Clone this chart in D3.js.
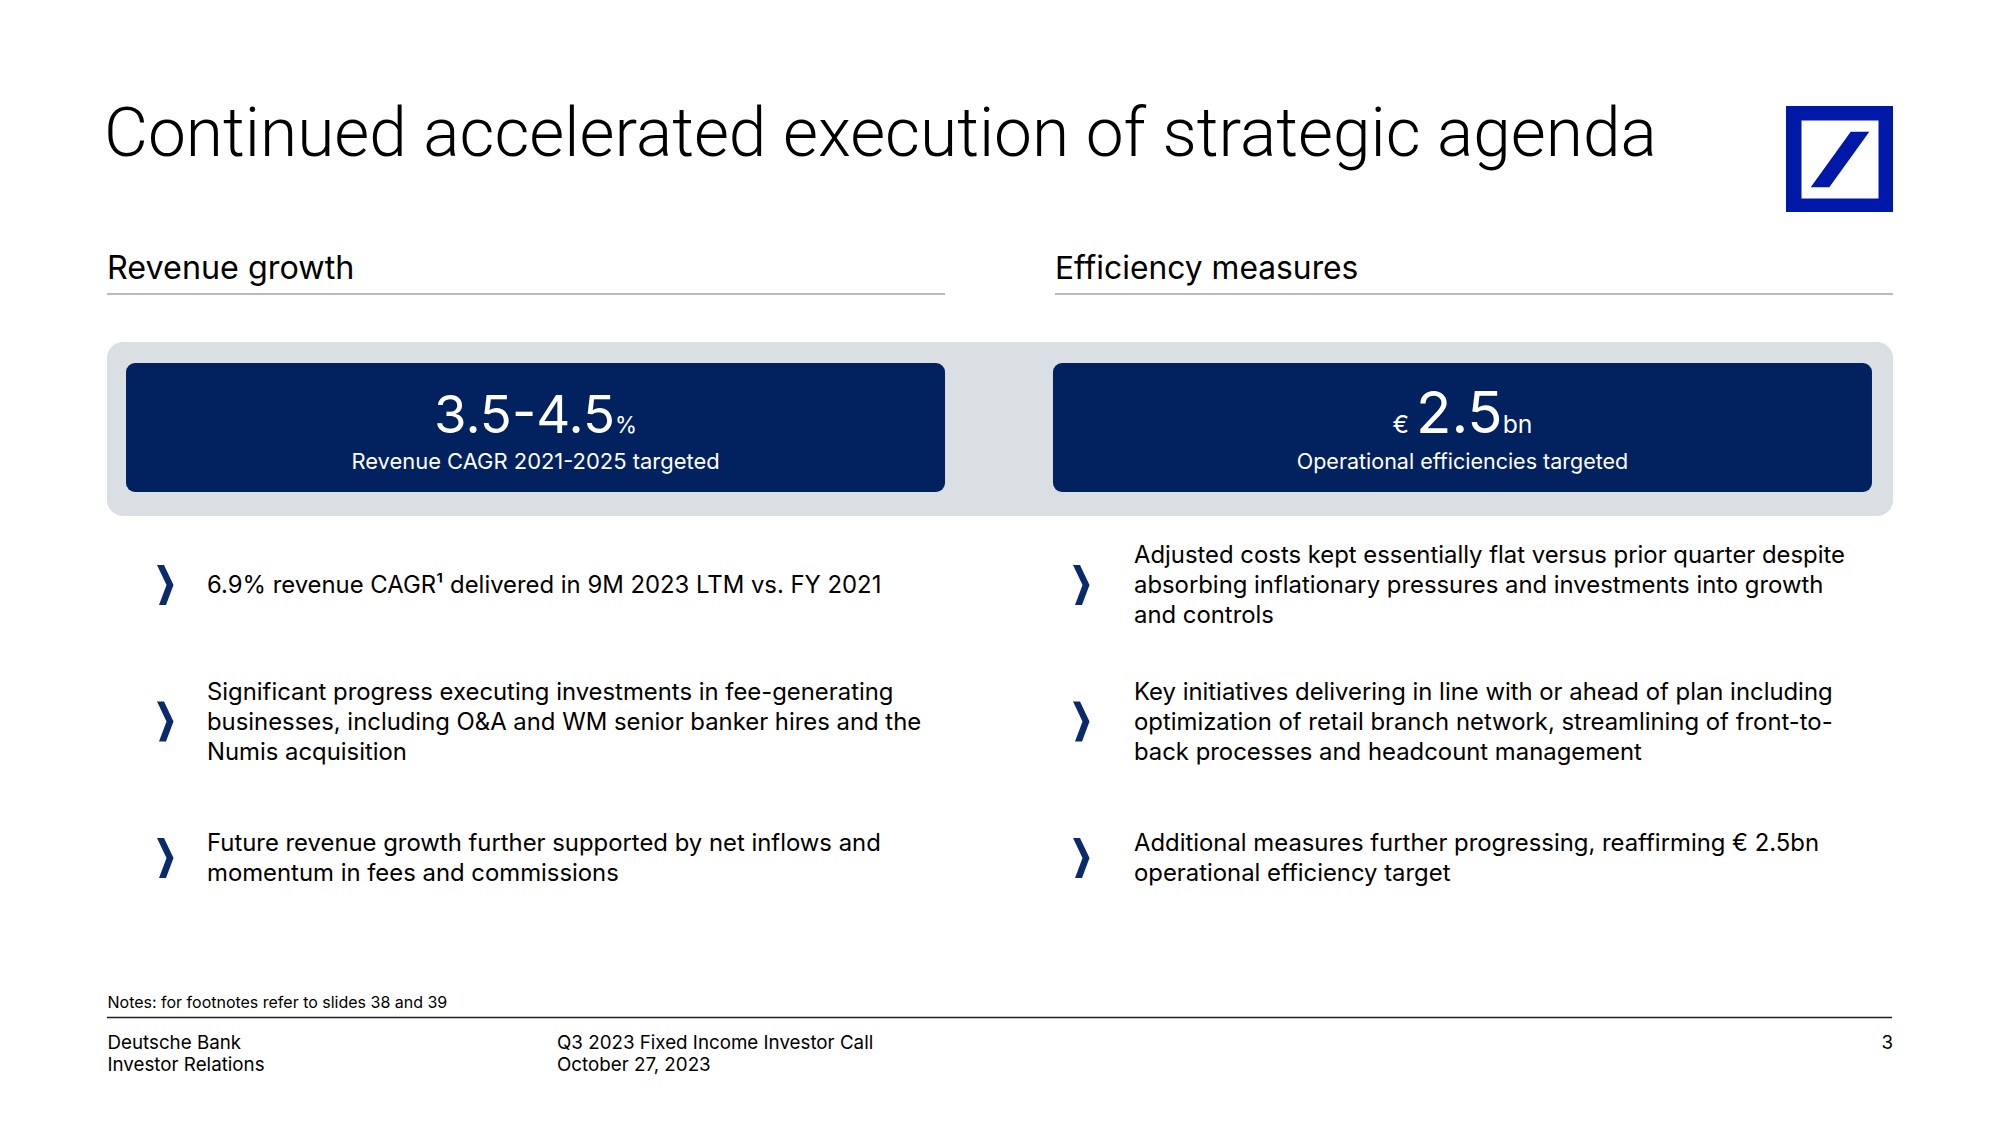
<!DOCTYPE html>
<html>
<head>
<meta charset="utf-8">
<script src="https://cdn.jsdelivr.net/npm/d3@7/dist/d3.min.js"></script>
<style>
  html, body { margin: 0; padding: 0; background: #ffffff; }
  svg { display: block; }
  text { font-family: Inter, Roboto, "Noto Sans", "Liberation Sans", sans-serif; }
  text.title { font-family: Roboto, Inter, sans-serif; }
</style>
</head>
<body>
<svg id="slide" width="2000" height="1125"></svg>
<script>
// ---------------- data ----------------
const title = "Continued accelerated execution of strategic agenda";
const sectionHeaders = ["Revenue growth", "Efficiency measures"];
const kpiPrefix = ["", "€"];
const kpiValues = ["3.5-4.5", "2.5"];
const kpiSuffix = ["%", "bn"];
const kpiLabels = ["Revenue CAGR 2021-2025 targeted", "Operational efficiencies targeted"];
const bulletsLeft = [
  ["6.9% revenue CAGR¹ delivered in 9M 2023 LTM vs. FY 2021"],
  ["Significant progress executing investments in fee-generating",
   "businesses, including O&A and WM senior banker hires and the",
   "Numis acquisition"],
  ["Future revenue growth further supported by net inflows and",
   "momentum in fees and commissions"]
];
const bulletsRight = [
  ["Adjusted costs kept essentially flat versus prior quarter despite",
   "absorbing inflationary pressures and investments into growth",
   "and controls"],
  ["Key initiatives delivering in line with or ahead of plan including",
   "optimization of retail branch network, streamlining of front-to-",
   "back processes and headcount management"],
  ["Additional measures further progressing, reaffirming € 2.5bn",
   "operational efficiency target"]
];
const notesText = "Notes: for footnotes refer to slides 38 and 39";
const footerLeft = ["Deutsche Bank", "Investor Relations"];
const footerMid = ["Q3 2023 Fixed Income Investor Call", "October 27, 2023"];
const pageNumber = "3";

// ---------------- layout ----------------
const NAVY = "#02215f", GREY_BOX = "#d9dfe3", LOGO_BLUE = "#0018a8", CHEV = "#0b2a6c";
const svg = d3.select("#slide");

const col = d3.scaleBand().domain([0, 1]).range([107, 1893]).paddingInner(0.116).paddingOuter(0);
const rowY = d3.scalePoint().domain([0, 1, 2]).range([585, 858]);
const lineH = 30;

// scale the font-size of a text (and its tspans) so it spans a given width
function fitWidth(sel, target) {
  const node = sel.node();
  const w = node.getComputedTextLength();
  const k = target / w;
  const spans = sel.selectAll("tspan");
  if (spans.size()) spans.each(function () {
    const s = d3.select(this); s.attr("font-size", +s.attr("font-size") * k);
  });
  else sel.attr("font-size", +sel.attr("font-size") * k);
  return k;
}

// title
const titleText = svg.append("text").attr("class", "title")
  .attr("x", 104).attr("y", 156)
  .attr("font-size", 66).attr("font-weight", 300).attr("fill", "#000")
  .text(title);
fitWidth(titleText, 1553);

// logo
const logo = svg.append("g").attr("transform", "translate(1786,106)");
logo.append("rect").attr("width", 107).attr("height", 106).attr("fill", LOGO_BLUE);
logo.append("rect").attr("x", 15.5).attr("y", 14.5).attr("width", 77).attr("height", 78).attr("fill", "#fff");
logo.append("path").attr("d", "M64.7,25.7 L83.3,25.7 L43.3,81.3 L24.7,81.3 Z").attr("fill", LOGO_BLUE);

// section headers + underlines
const hdrWidths = [247.5, 303.5];
sectionHeaders.forEach((h, i) => {
  const t = svg.append("text")
    .attr("x", col(i)).attr("y", 279)
    .attr("font-size", 28).attr("fill", "#000").text(h);
  fitWidth(t, hdrWidths[i]);
  svg.append("line")
    .attr("x1", col(i)).attr("x2", col(i) + col.bandwidth())
    .attr("y1", 294).attr("y2", 294)
    .attr("stroke", "#a5a5a5").attr("stroke-width", 1.5);
});

// grey container
svg.append("rect")
  .attr("x", col(0)).attr("y", 342)
  .attr("width", col(1) + col.bandwidth() - col(0)).attr("height", 174)
  .attr("rx", 16).attr("fill", GREY_BOX);

// KPI boxes
const boxW = 819;
const kpiWidths = [203, 140], kpiLabelWidths = [368.5, 331.5];
kpiValues.forEach((v, i) => {
  const bx = i === 0 ? col(0) + col.bandwidth() - boxW : col(1) - 2;
  svg.append("rect").attr("x", bx).attr("y", 363).attr("width", boxW).attr("height", 129)
    .attr("rx", 9).attr("fill", NAVY);
  const cx = bx + boxW / 2;
  const t = svg.append("text").attr("x", cx).attr("y", 433)
    .attr("text-anchor", "middle").attr("fill", "#fff");
  if (kpiPrefix[i]) t.append("tspan").attr("font-size", 23).text(kpiPrefix[i] + " ");
  t.append("tspan").attr("font-size", 54).text(v);
  t.append("tspan").attr("font-size", 23).text(kpiSuffix[i]);
  fitWidth(t, kpiWidths[i]);
  const l = svg.append("text").attr("x", cx).attr("y", 469)
    .attr("text-anchor", "middle").attr("fill", "#fff")
    .attr("font-size", 22).text(kpiLabels[i]);
  fitWidth(l, kpiLabelWidths[i]);
});

// bullets
const chevX = [157, 1073], textX = [207, 1134];
// body size derived from one reference line width
const probe = svg.append("text").attr("font-size", 24).text(bulletsRight[0][0]);
const bodySize = 24 * 711.5 / probe.node().getComputedTextLength();
probe.remove();

[bulletsLeft, bulletsRight].forEach((list, c) => {
  list.forEach((lines, r) => {
    const cy = rowY(r);
    const x0 = chevX[c];
    svg.append("path")
      .attr("d", `M${x0},${cy - 20} L${x0 + 7},${cy - 20} L${x0 + 16.5},${cy} L${x0 + 9},${cy + 20} L${x0 + 2},${cy + 20} L${x0 + 9.5},${cy} Z`)
      .attr("fill", CHEV);
    const n = lines.length;
    lines.forEach((ln, k) => {
      svg.append("text")
        .attr("x", textX[c])
        .attr("y", cy + 8 + (k - (n - 1) / 2) * lineH)
        .attr("font-size", bodySize).attr("fill", "#000")
        .text(ln);
    });
  });
});

// notes + footer
const notes = svg.append("text").attr("x", 107.5).attr("y", 1008)
  .attr("font-size", 15).attr("fill", "#000").text(notesText);
fitWidth(notes, 340);
svg.append("line").attr("x1", 107).attr("x2", 1892).attr("y1", 1017.5).attr("y2", 1017.5)
  .attr("stroke", "#1b1f2e").attr("stroke-width", 1.6);

const fprobe = svg.append("text").attr("font-size", 18).text(footerMid[0]);
const footSize = 18 * 316.5 / fprobe.node().getComputedTextLength();
fprobe.remove();
footerLeft.forEach((s, k) => {
  svg.append("text").attr("x", 107.5).attr("y", 1049 + k * 22)
    .attr("font-size", footSize).attr("fill", "#000").text(s);
});
footerMid.forEach((s, k) => {
  svg.append("text").attr("x", 557).attr("y", 1049 + k * 22)
    .attr("font-size", footSize).attr("fill", "#000").text(s);
});
svg.append("text").attr("x", 1893).attr("y", 1049).attr("text-anchor", "end")
  .attr("font-size", footSize).attr("fill", "#000").text(pageNumber);
</script>
</body>
</html>
